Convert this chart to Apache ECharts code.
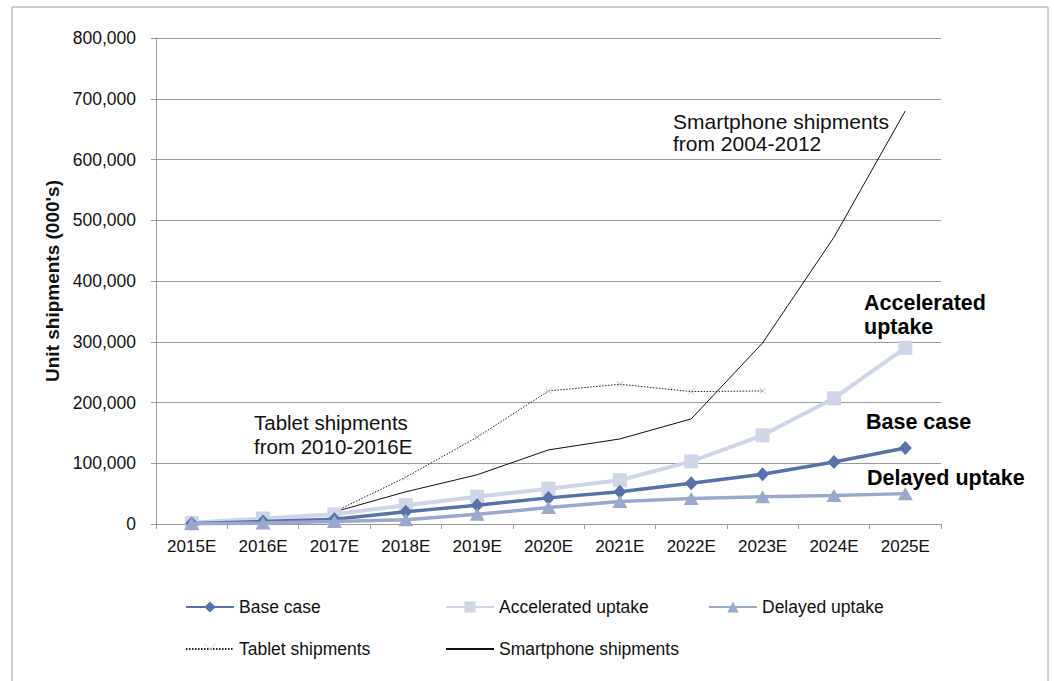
<!DOCTYPE html>
<html>
<head>
<meta charset="utf-8">
<script src="https://cdn.jsdelivr.net/npm/echarts@6/dist/echarts.min.js"></script>
<style>
html,body{margin:0;padding:0;background:#fff;}
#chart{width:1054px;height:681px;}
</style>
</head>
<body>
<div id="chart"></div>
<script>
var categories = ['2015E','2016E','2017E','2018E','2019E','2020E','2021E','2022E','2023E','2024E','2025E'];
var baseCase = [1000, 4000, 8000, 20000, 31000, 43000, 53000, 67000, 82000, 102000, 125000];
var acceleratedUptake = [2000, 9000, 16000, 31000, 45000, 58000, 72000, 103000, 146000, 207000, 290000];
var delayedUptake = [500, 1500, 4000, 7000, 16000, 27000, 37000, 42000, 45000, 47000, 50000];
var tabletShipments = [null, null, 20000, 77000, 143000, 219000, 230000, 218000, 219000, null, null];
var smartphoneShipments = [null, null, 20000, 53000, 81000, 122000, 140000, 173000, 298000, 472000, 680000];
var yTicks = {min: 0, max: 800000, interval: 100000};

var FONT = '"Liberation Sans", Arial, Helvetica, sans-serif';
var chart = echarts.init(document.getElementById('chart'), null, {renderer: 'svg'});

function fmt(v){ return String(v).replace(/\B(?=(\d{3})+(?!\d))/g, ','); }

function legendAt(item, left, top){
  return {
    data: [item], left: left, top: top, orient: 'horizontal',
    itemWidth: 48, itemHeight: 14, padding: 0, selectedMode: false,
    textStyle: {fontFamily: FONT, fontSize: 17.5, color: '#111'}
  };
}

var option = {
  backgroundColor: '#fff',
  animation: false,
  grid: {left: 156, right: 113, top: 38, bottom: 157, containLabel: false},
  legend: [
    legendAt('Base case', 185, 598),
    legendAt('Accelerated uptake', 445, 598),
    legendAt('Delayed uptake', 708, 598),
    legendAt({name: 'Tablet shipments', itemStyle: {borderColor: '#d0d0d0', borderWidth: 0.8}}, 185, 640),
    legendAt({name: 'Smartphone shipments', itemStyle: {color: 'rgba(0,0,0,0)', borderWidth: 0, opacity: 0}}, 445, 640)
  ],
  xAxis: {
    type: 'category',
    data: categories,
    boundaryGap: true,
    axisLine: {lineStyle: {color: '#999', width: 1}},
    axisTick: {show: true, length: 5, lineStyle: {color: '#999'}},
    axisLabel: {fontFamily: FONT, fontSize: 17, color: '#111', margin: 14, interval: 0},
    splitLine: {show: false}
  },
  yAxis: {
    type: 'value',
    min: yTicks.min, max: yTicks.max, interval: yTicks.interval,
    name: "Unit shipments (000's)",
    nameLocation: 'middle',
    nameGap: 93,
    nameTextStyle: {fontFamily: FONT, fontSize: 19, fontWeight: 'bold', color: '#111'},
    axisLine: {show: true, lineStyle: {color: '#999', width: 1}},
    axisTick: {show: true, length: 5, lineStyle: {color: '#999'}},
    axisLabel: {fontFamily: FONT, fontSize: 17.5, color: '#111', margin: 20, formatter: fmt},
    splitLine: {show: true, lineStyle: {color: '#9a9a9a', width: 1}}
  },
  series: [
    {
      name: 'Base case', type: 'line', data: baseCase,
      symbol: 'diamond', symbolSize: [13, 14],
      lineStyle: {color: '#5772A8', width: 3.5},
      itemStyle: {color: '#5772A8'}, z: 4
    },
    {
      name: 'Accelerated uptake', type: 'line', data: acceleratedUptake,
      symbol: 'rect', symbolSize: 14,
      lineStyle: {color: '#CDD5E6', width: 4},
      itemStyle: {color: '#CDD5E6'}, z: 3
    },
    {
      name: 'Delayed uptake', type: 'line', data: delayedUptake,
      symbol: 'triangle', symbolSize: [15, 13],
      lineStyle: {color: '#99A8CC', width: 3.5},
      itemStyle: {color: '#99A8CC'}, z: 5
    },
    {
      name: 'Tablet shipments', type: 'line', data: tabletShipments,
      symbol: 'path://M0,0L10,10M10,0L0,10', symbolSize: 6,
      lineStyle: {color: '#222', width: 1, type: [1.5, 1.5]},
      itemStyle: {color: 'none', borderColor: '#bbb', borderWidth: 1}, z: 2
    },
    {
      name: 'Smartphone shipments', type: 'line', data: smartphoneShipments,
      symbol: 'none',
      lineStyle: {color: '#111', width: 1},
      itemStyle: {color: '#111'}, z: 2
    }
  ],
  graphic: [
    {type: 'rect', z: -1, silent: true,
     shape: {x: 12, y: 7, width: 1036, height: 700},
     style: {fill: 'none', stroke: '#999', lineWidth: 1}},
    {type: 'text', left: 673, top: 110, silent: true,
     style: {text: 'Smartphone shipments\nfrom 2004-2012', font: '21px ' + FONT, fill: '#111', lineHeight: 22.5}},
    {type: 'text', left: 254, top: 410, silent: true,
     style: {text: 'Tablet shipments\nfrom 2010-2016E', font: '20.5px ' + FONT, fill: '#111', lineHeight: 24}},
    {type: 'text', left: 864, top: 291, silent: true,
     style: {text: 'Accelerated\nuptake', font: 'bold 21.5px ' + FONT, fill: '#000', lineHeight: 24}},
    {type: 'text', left: 866, top: 410, silent: true,
     style: {text: 'Base case', font: 'bold 21.5px ' + FONT, fill: '#000', lineHeight: 24}},
    {type: 'text', left: 867, top: 466, silent: true,
     style: {text: 'Delayed uptake', font: 'bold 21.5px ' + FONT, fill: '#000', lineHeight: 24}}
  ]
};
chart.setOption(option);
</script>
</body>
</html>
